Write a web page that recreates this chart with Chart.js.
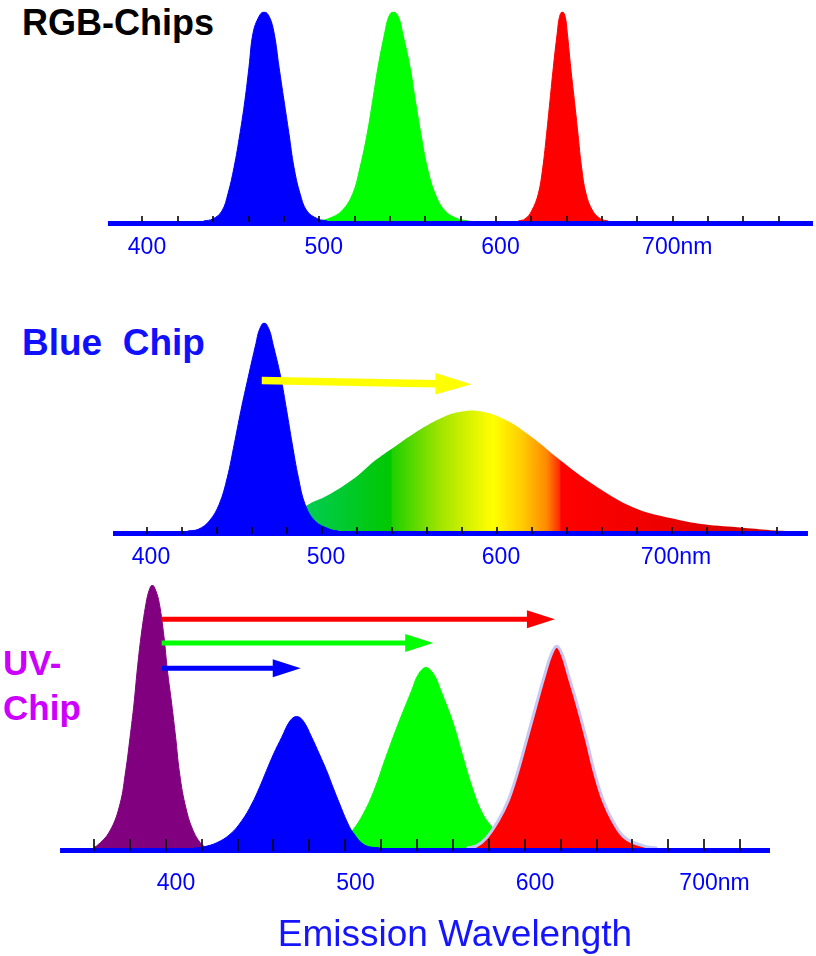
<!DOCTYPE html>
<html>
<head>
<meta charset="utf-8">
<script src="https://cdn.jsdelivr.net/npm/chart.js@4.4.0/dist/chart.umd.min.js"></script>
<style>
  body { margin: 0; background: #fff; width: 816px; height: 956px; position: relative; overflow: hidden;
         font-family: "Liberation Sans", Arial, sans-serif; }
  canvas { position: absolute; left: 0; }
  .name { position: absolute; font-weight: bold; font-size: 36px; line-height: 1; white-space: pre; }
</style>
</head>
<body>
<div class="name" style="left:22px;top:5px;color:#000">RGB-Chips</div>
<div class="name" style="left:22px;top:324px;color:#1010ff;font-size:37px">Blue  Chip</div>
<div class="name" style="left:3px;top:645px;color:#cc00ff;font-size:35px">UV-</div>
<div class="name" style="left:3px;top:690px;color:#cc00ff;font-size:35px">Chip</div>

<canvas id="rgb" width="816" height="280" style="top:0"></canvas>
<canvas id="blue" width="816" height="300" style="top:290px"></canvas>
<canvas id="uv" width="816" height="396" style="top:560px"></canvas>

<script>
'use strict';

// wavelength labels on each axis (nm)
const waveLabels = [400, 500, 600, 700];

// RGB chips: [wavelength nm, relative intensity]
const rgbBlue = [[432,0],[437.3,1],[442.4,4.8],[445.8,13],[449.2,25.4],[452.6,41.8],[455.4,57.6],[457.7,73.5],[460,89.8],
  [463.3,97.6],[466.2,100],[469.2,97.6],[471.9,89.8],[474.7,73.5],[477.5,57.6],[480.3,41.8],[483.2,25.4],[486.6,13],[490.5,4.8],[496.7,1],[502,0]];
const rgbGreen = [[496,0],[502.4,1],[510.2,4.8],[516.4,13],[520.5,25.4],[524.6,41.8],[527.7,57.6],[530.7,73.5],[534.5,89.8],
  [536.8,97.6],[539.4,100],[542.2,97.6],[544.6,89.8],[548.8,73.5],[551.8,57.6],[554.9,41.8],[558.6,25.4],[563,13],[568.6,4.8],[576,1],[582,0]];
const rgbRed = [[610,0],[613.9,1],[617.6,4.8],[621.4,13],[623.9,25.4],[626.1,41.8],[628,57.6],[629.9,73.5],[632.1,89.8],
  [633.4,97.6],[635,100],[636.6,97.6],[637.8,89.8],[639.7,73.5],[641.8,57.6],[643.8,41.8],[645.9,25.4],[648.4,13],[652.2,4.8],[656.7,1],[661,0]];

// Blue chip + phosphor
const bcBlue = [[421,0],[427,0.8],[433.3,4.8],[439,12.9],[443.6,25.7],[447.6,41.8],[451.4,57.9],[455.6,74],[460,90.1],
  [461.9,96.5],[464.7,100],[467.6,96.5],[469.6,90.1],[474.1,74],[477.5,57.9],[480.7,41.8],[484.2,25.7],[488,12.9],[493.7,4.8],[502.3,0.8],[507,0]];
const bcPhosphor = [[465,0],[478,6],[490.2,12.9],[500.5,16.9],[516.8,25.7],[528,33.8],[538.2,39.9],[554.5,49.1],[567.8,55],
  [577,57.3],[588.2,57.5],[602.5,53.4],[617.7,45],[633.7,34.1],[652.5,22.5],[676,11.2],[697.4,6.1],[715.8,3.2],[738.2,1.6],[756.6,0.3],[765,0]];
// [from nm, from intensity, to nm, to intensity]
const bcArrow = [463.3, 72.2, 583.1, 70.4];

// UV chip + RGB phosphors
const uvUv = [[352,0],[355.8,0.8],[363.2,6.5],[368.8,16.7],[372,29.4],[374.4,42.1],[376.6,54.8],[378.4,67.6],[380.5,80.3],[383.3,93],
  [385.1,98.1],[386.8,100],[388.6,98.1],[390.7,93],[393.3,80.3],[395.2,67.6],[397.6,54.8],[399.8,42.1],[401.8,29.4],[405,16.7],[409.6,6.5],[415.2,0.8],[419,0]];
const uvBlue = [[410,0],[415.2,0.4],[422.7,2],[430.1,5.2],[436.6,10.3],[442.2,16.7],[446.5,23],[450.4,29.4],[454.4,35.8],[458.9,42.1],
  [463.5,48.3],[467.2,50],[470.9,48.3],[475.6,42.1],[479.8,35.8],[483.9,29.4],[487.5,23],[491.2,16.7],[495.1,10.3],[498.5,6],[505.3,1],[513.6,0]];
const uvGreen = [[470,0],[474.7,0.2],[485.8,1.1],[493,3],[498.5,6.8],[504.3,12.9],[510.3,21.8],[516.9,34.5],[523.8,47.2],[531.3,59.9],
  [535,66],[539.3,68.6],[543.6,66],[547.5,59.9],[554.5,47.2],[559.9,34.5],[565.6,21.8],[570.9,12.9],[576.8,7.4],[584,3],[592,0]];
const uvRed = [[562,0],[567.4,0.8],[573,3.9],[579.4,10.3],[585,17.9],[590,28.1],[595.2,40.8],[600.3,53.5],[605.6,66.3],
  [609,73.5],[612.1,76.7],[615.2,73.5],[618.4,66.3],[623.9,53.5],[628.8,40.8],[633.4,28.1],[638.1,17.9],[643.3,10.3],[650.1,3.9],[660.3,0.8],[668,0]];
const uvArrows = [[392, 87.0, 611.1, 87.0], [392, 77.9, 543.3, 77.9], [392, 68.3, 469.5, 68.3]];

const FONT = '"Liberation Sans", Arial, sans-serif';

// baseline, small tick marks and arrows, placed through the chart scales
const spectrumAxis = {
  id: 'spectrumAxis',
  afterDatasetsDraw(chart, args, o) {
    const ctx = chart.ctx, xs = chart.scales.x, ys = chart.scales.y;
    const base = ys.getPixelForValue(0);
    ctx.save();
    (o.arrows || []).forEach(function (a) {
      const x0 = xs.getPixelForValue(a.v[0]), y0 = ys.getPixelForValue(a.v[1]);
      const x1 = xs.getPixelForValue(a.v[2]), y1 = ys.getPixelForValue(a.v[3]);
      const xb = x1 - a.head, yb = y0 + (y1 - y0) * (xb - x0) / (x1 - x0);
      ctx.fillStyle = a.color;
      ctx.beginPath();
      ctx.moveTo(x0, y0 - a.shaft / 2);
      ctx.lineTo(xb, yb - a.shaft / 2);
      ctx.lineTo(xb, yb - a.half);
      ctx.lineTo(x1, y1);
      ctx.lineTo(xb, yb + a.half);
      ctx.lineTo(xb, yb + a.shaft / 2);
      ctx.lineTo(x0, y0 + a.shaft / 2);
      ctx.closePath();
      ctx.fill();
    });
    const l0 = xs.getPixelForValue(o.line[0]), l1 = xs.getPixelForValue(o.line[1]);
    ctx.fillStyle = '#0000ff';
    ctx.fillRect(l0, base, l1 - l0, o.lineWidth);
    ctx.strokeStyle = '#000';
    ctx.lineWidth = 1.6;
    for (let i = 0; i < o.tickCount; i++) {
      const px = Math.round(xs.getPixelForValue(o.tickStart + i * 20));
      ctx.beginPath();
      ctx.moveTo(px, base - o.tickUp);
      ctx.lineTo(px, base + o.tickDown);
      ctx.stroke();
    }
    ctx.restore();
  }
};

function area(points, color, extra) {
  return Object.assign({
    data: points.map(function (p) { return { x: p[0], y: p[1] }; }),
    backgroundColor: color, borderColor: color, borderWidth: 1,
    fill: 'origin', pointRadius: 0, tension: 0.4
  }, extra || {});
}

function makeChart(id, cfg) {
  const xMin = 400 - (cfg.px400 - cfg.left) / cfg.pxPerNm;
  const xMax = xMin + (816 - cfg.left) / cfg.pxPerNm;
  return new Chart(document.getElementById(id), {
    type: 'line',
    data: { datasets: cfg.datasets },
    options: {
      responsive: false, animation: false, events: [],
      layout: { padding: { left: cfg.left, right: 0, top: cfg.padTop, bottom: cfg.padBottom } },
      scales: {
        x: {
          type: 'linear', min: xMin, max: xMax,
          afterBuildTicks: function (s) { s.ticks = waveLabels.map(function (v) { return { value: v }; }); },
          ticks: {
            color: '#0000ff', padding: cfg.labelPad, autoSkip: false, maxRotation: 0,
            font: { family: FONT, size: 23, lineHeight: 1 },
            callback: function (v) { return v === 700 ? '700nm' : String(v); }
          },
          grid: { display: false, drawTicks: false },
          border: { display: false },
          title: cfg.title || { display: false }
        },
        y: { display: false, min: 0, max: 100 }
      },
      plugins: { legend: { display: false }, tooltip: { enabled: false }, spectrumAxis: cfg.axis }
    },
    plugins: [spectrumAxis]
  });
}

// RGB chips
makeChart('rgb', {
  px400: 147, pxPerNm: 1.7675, left: 0, padTop: 11.7, padBottom: 5, labelPad: 15.5,
  datasets: [area(rgbBlue, '#0000ff'), area(rgbGreen, '#00ff00'), area(rgbRed, '#ff0000')],
  axis: { line: [377.9, 776.8], lineWidth: 5, tickStart: 397.45, tickCount: 19, tickUp: 5, tickDown: 1 }
});

// Blue chip with yellow phosphor
const phosphorStops = [[490, '#00cc50'], [537, '#00c800'], [538, '#20d000'], [565, '#a0e400'], [592, '#f8fc00'], [596, '#ffff00'],
  [612, '#ffcc00'], [626, '#ff8a00'], [633.5, '#ff2a00'], [634.2, '#ff0000'], [690, '#ee0000'], [760, '#cc0000']];
function phosphorFill(c) {
  const chart = c.chart;
  if (!chart.chartArea) return '#ffff00';
  const xs = chart.scales.x;
  const a = phosphorStops[0][0], b = phosphorStops[phosphorStops.length - 1][0];
  const g = chart.ctx.createLinearGradient(xs.getPixelForValue(a), 0, xs.getPixelForValue(b), 0);
  phosphorStops.forEach(function (s) { g.addColorStop((s[0] - a) / (b - a), s[1]); });
  return g;
}
makeChart('blue', {
  px400: 151, pxPerNm: 1.75, left: 0, padTop: 32.7, padBottom: 5, labelPad: 15.5,
  datasets: [area(bcBlue, '#0000ff'), area(bcPhosphor, phosphorFill, { borderWidth: 0, borderColor: 'rgba(0,0,0,0)' })],
  axis: {
    line: [378.3, 775.4], lineWidth: 5, tickStart: 397.7, tickCount: 19, tickUp: 4, tickDown: 3,
    arrows: [{ v: bcArrow, color: '#ffff00', shaft: 7.5, head: 36, half: 10.7 }]
  }
});

// UV chip with RGB phosphors
const arrowColors = ['#ff0000', '#00ff00', '#0000ff'];
makeChart('uv', {
  px400: 176, pxPerNm: 1.795, left: 94, padTop: 25, padBottom: 2, labelPad: 24.5,
  datasets: [area(uvBlue, '#0000ff'), area(uvRed, '#ff0000', { borderColor: '#c8c8f4', borderWidth: 3 }),
             area(uvGreen, '#00ff00'), area(uvUv, '#800080')],
  title: { display: true, text: 'Emission Wavelength', color: '#1414ff', font: { family: FONT, size: 37, lineHeight: 1 }, padding: { top: -3, bottom: 0 } },
  axis: {
    line: [335.4, 730.9], lineWidth: 5, tickStart: 354.3, tickCount: 19, tickUp: 9, tickDown: 3,
    arrows: uvArrows.map(function (v, i) { return { v: v, color: arrowColors[i], shaft: 5, head: 28, half: 9 }; })
  }
});
</script>
</body>
</html>
